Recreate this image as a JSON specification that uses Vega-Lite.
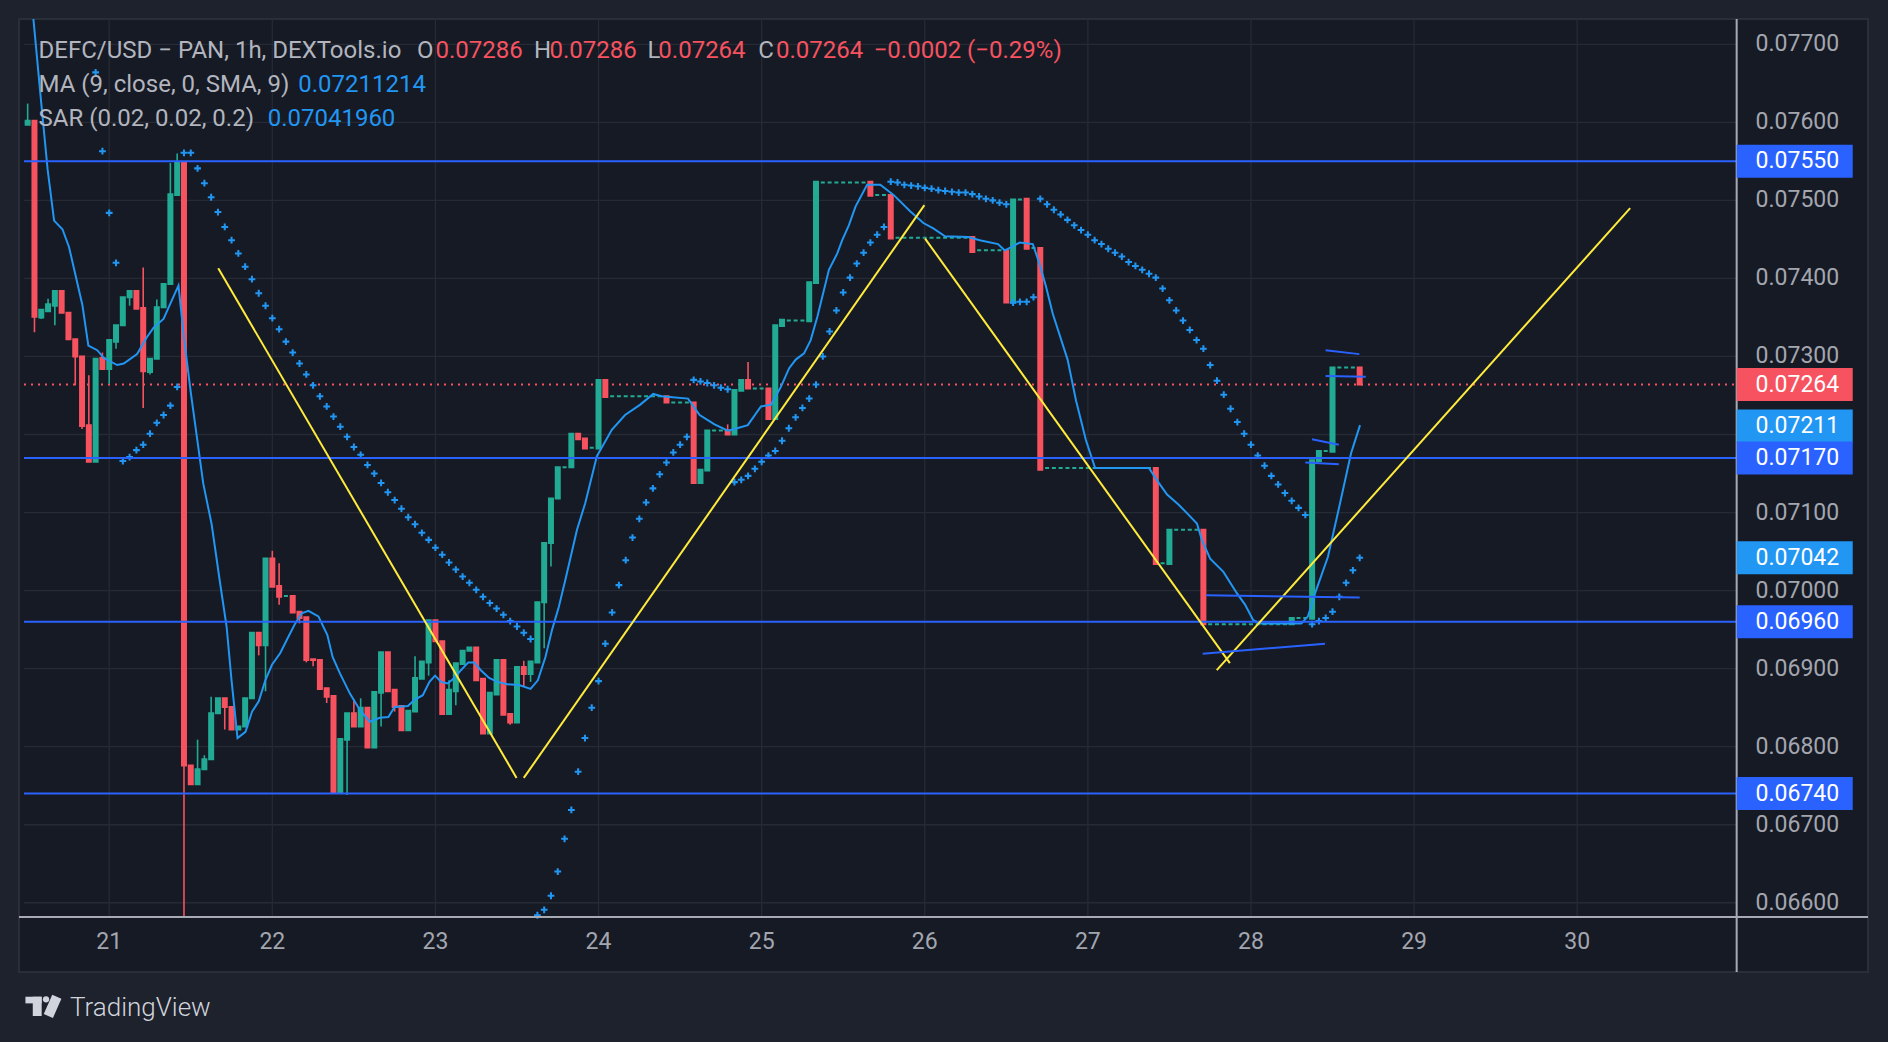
{
"$schema": "https://vega.github.io/schema/vega-lite/v6.json",
"width": 1849, "height": 953,
"autosize": {"type": "none"},
"padding": {"left": 19, "top": 19, "right": 20, "bottom": 70},
"background": "#1e222d",
"config": {"view": {"fill": "#161a25", "stroke": "#2a2e39", "strokeWidth": 2}, "text": {"font": "Roboto"}},
"datasets": {
"candles": [
{"h":-12,"o":0.07597,"c":0.07602,"hi":0.07624,"lo":0.07597},
{"h":-11,"o":0.07602,"c":0.07351,"hi":0.07602,"lo":0.07331},
{"h":-10,"o":0.07350,"c":0.07360,"hi":0.07360,"lo":0.07348},
{"h":-9,"o":0.07358,"c":0.07367,"hi":0.07374,"lo":0.07358},
{"h":-8,"o":0.07365,"c":0.07384,"hi":0.07384,"lo":0.07340},
{"h":-7,"o":0.07384,"c":0.07356},
{"h":-6,"o":0.07356,"c":0.07322},
{"h":-5,"o":0.07322,"c":0.07300,"hi":0.07322,"lo":0.07263},
{"h":-4,"o":0.07300,"c":0.07211,"hi":0.07300,"lo":0.07207},
{"h":-3,"o":0.07212,"c":0.07165,"hi":0.07276,"lo":0.07165},
{"h":-2,"o":0.07165,"c":0.07297},
{"h":-1,"o":0.07298,"c":0.07284,"hi":0.07305,"lo":0.07284},
{"h":0,"o":0.07284,"c":0.07321,"hi":0.07321,"lo":0.07265},
{"h":1,"o":0.07319,"c":0.07340,"hi":0.07340,"lo":0.07310},
{"h":2,"o":0.07340,"c":0.07376},
{"h":3,"o":0.07376,"c":0.07384,"hi":0.07384,"lo":0.07365},
{"h":4,"o":0.07384,"c":0.07361},
{"h":5,"o":0.07362,"c":0.07281,"hi":0.07414,"lo":0.07234},
{"h":6,"o":0.07280,"c":0.07297,"hi":0.07297,"lo":0.07277},
{"h":7,"o":0.07297,"c":0.07363,"hi":0.07373,"lo":0.07297},
{"h":8,"o":0.07363,"c":0.07393},
{"h":9,"o":0.07393,"c":0.07508,"hi":0.07548,"lo":0.07393},
{"h":10,"o":0.07507,"c":0.07548,"hi":0.07560,"lo":0.07507},
{"h":11,"o":0.07548,"c":0.06776,"hi":0.07548,"lo":0.06582},
{"h":12,"o":0.06776,"c":0.06752},
{"h":13,"o":0.06752,"c":0.06771,"hi":0.06809,"lo":0.06752},
{"h":14,"o":0.06771,"c":0.06784,"hi":0.06789,"lo":0.06771},
{"h":15,"o":0.06784,"c":0.06843,"hi":0.06864,"lo":0.06784},
{"h":16,"o":0.06843,"c":0.06862},
{"h":17,"o":0.06862,"c":0.06851,"hi":0.06862,"lo":0.06822},
{"h":18,"o":0.06851,"c":0.06822},
{"h":19,"o":0.06822,"c":0.06826},
{"h":20,"o":0.06826,"c":0.06862},
{"h":21,"o":0.06862,"c":0.06946},
{"h":22,"o":0.06946,"c":0.06930,"hi":0.06946,"lo":0.06917},
{"h":23,"o":0.06930,"c":0.07041,"hi":0.07041,"lo":0.06871},
{"h":24,"o":0.07041,"c":0.07005,"hi":0.07051,"lo":0.07005},
{"h":25,"o":0.07006,"c":0.06992,"hi":0.07035,"lo":0.06982},
{"h":26,"o":0.06993,"c":0.06993},
{"h":27,"o":0.06993,"c":0.06972},
{"h":28,"o":0.06973,"c":0.06965,"hi":0.06973,"lo":0.06958},
{"h":29,"o":0.06966,"c":0.06911,"hi":0.06966,"lo":0.06908},
{"h":30,"o":0.06912,"c":0.06911,"hi":0.06912,"lo":0.06903},
{"h":31,"o":0.06911,"c":0.06874},
{"h":32,"o":0.06875,"c":0.06864,"hi":0.06875,"lo":0.06856},
{"h":33,"o":0.06865,"c":0.06742},
{"h":34,"o":0.06742,"c":0.06810},
{"h":35,"o":0.06809,"c":0.06843,"hi":0.06843,"lo":0.06738},
{"h":36,"o":0.06843,"c":0.06826,"hi":0.06861,"lo":0.06826},
{"h":37,"o":0.06826,"c":0.06850,"hi":0.06862,"lo":0.06826},
{"h":38,"o":0.06850,"c":0.06799},
{"h":39,"o":0.06799,"c":0.06870},
{"h":40,"o":0.06869,"c":0.06921,"hi":0.06921,"lo":0.06826},
{"h":41,"o":0.06921,"c":0.06871},
{"h":42,"o":0.06873,"c":0.06851,"hi":0.06873,"lo":0.06845},
{"h":43,"o":0.06852,"c":0.06821},
{"h":44,"o":0.06821,"c":0.06846},
{"h":45,"o":0.06845,"c":0.06888,"hi":0.06916,"lo":0.06845},
{"h":46,"o":0.06887,"c":0.06909},
{"h":47,"o":0.06908,"c":0.06962,"hi":0.06962,"lo":0.06891},
{"h":48,"o":0.06962,"c":0.06935},
{"h":49,"o":0.06935,"c":0.06842},
{"h":50,"o":0.06842,"c":0.06873,"hi":0.06885,"lo":0.06842},
{"h":51,"o":0.06871,"c":0.06907,"hi":0.06907,"lo":0.06853},
{"h":52,"o":0.06906,"c":0.06923},
{"h":53,"o":0.06923,"c":0.06927},
{"h":54,"o":0.06927,"c":0.06885},
{"h":55,"o":0.06887,"c":0.06817},
{"h":56,"o":0.06817,"c":0.06869},
{"h":57,"o":0.06867,"c":0.06911},
{"h":58,"o":0.06911,"c":0.06841},
{"h":59,"o":0.06842,"c":0.06831,"hi":0.06842,"lo":0.06828},
{"h":60,"o":0.06831,"c":0.06902},
{"h":61,"o":0.06902,"c":0.06893,"hi":0.06910,"lo":0.06877},
{"h":62,"o":0.06893,"c":0.06909,"hi":0.06909,"lo":0.06883},
{"h":63,"o":0.06908,"c":0.06985},
{"h":64,"o":0.06985,"c":0.07061,"hi":0.07061,"lo":0.06926},
{"h":65,"o":0.07061,"c":0.07118,"hi":0.07118,"lo":0.07031},
{"h":66,"o":0.07118,"c":0.07158},
{"h":67,"o":0.07158,"c":0.07158},
{"h":68,"o":0.07158,"c":0.07201},
{"h":69,"o":0.07201,"c":0.07194},
{"h":70,"o":0.07195,"c":0.07182},
{"h":71,"o":0.07183,"c":0.07183},
{"h":72,"o":0.07182,"c":0.07270},
{"h":73,"o":0.07270,"c":0.07248},
{"h":74,"o":0.07249,"c":0.07249},
{"h":75,"o":0.07249,"c":0.07249},
{"h":76,"o":0.07249,"c":0.07249},
{"h":77,"o":0.07249,"c":0.07249},
{"h":78,"o":0.07249,"c":0.07249},
{"h":79,"o":0.07249,"c":0.07249},
{"h":80,"o":0.07249,"c":0.07249},
{"h":81,"o":0.07249,"c":0.07249},
{"h":82,"o":0.07249,"c":0.07241},
{"h":83,"o":0.07241,"c":0.07241},
{"h":84,"o":0.07241,"c":0.07241},
{"h":85,"o":0.07241,"c":0.07241},
{"h":86,"o":0.07241,"c":0.07138},
{"h":87,"o":0.07138,"c":0.07155},
{"h":88,"o":0.07154,"c":0.07205},
{"h":89,"o":0.07205,"c":0.07205},
{"h":90,"o":0.07205,"c":0.07205},
{"h":91,"o":0.07205,"c":0.07200,"hi":0.07213,"lo":0.07200},
{"h":92,"o":0.07200,"c":0.07257},
{"h":93,"o":0.07256,"c":0.07270},
{"h":94,"o":0.07270,"c":0.07259,"hi":0.07293,"lo":0.07259},
{"h":95,"o":0.07259,"c":0.07259},
{"h":96,"o":0.07259,"c":0.07259},
{"h":97,"o":0.07259,"c":0.07220},
{"h":98,"o":0.07220,"c":0.07340},
{"h":99,"o":0.07339,"c":0.07347},
{"h":100,"o":0.07346,"c":0.07346},
{"h":101,"o":0.07346,"c":0.07346},
{"h":102,"o":0.07346,"c":0.07346},
{"h":103,"o":0.07345,"c":0.07395},
{"h":104,"o":0.07394,"c":0.07524},
{"h":105,"o":0.07523,"c":0.07523},
{"h":106,"o":0.07523,"c":0.07523},
{"h":107,"o":0.07523,"c":0.07523},
{"h":108,"o":0.07523,"c":0.07523},
{"h":109,"o":0.07523,"c":0.07523},
{"h":110,"o":0.07523,"c":0.07523},
{"h":111,"o":0.07523,"c":0.07523},
{"h":112,"o":0.07524,"c":0.07506},
{"h":113,"o":0.07507,"c":0.07507},
{"h":114,"o":0.07507,"c":0.07507},
{"h":115,"o":0.07507,"c":0.07451},
{"h":116,"o":0.07452,"c":0.07452},
{"h":117,"o":0.07452,"c":0.07452},
{"h":118,"o":0.07452,"c":0.07452},
{"h":119,"o":0.07452,"c":0.07452},
{"h":120,"o":0.07452,"c":0.07452},
{"h":121,"o":0.07452,"c":0.07452},
{"h":122,"o":0.07452,"c":0.07452},
{"h":123,"o":0.07452,"c":0.07452},
{"h":124,"o":0.07452,"c":0.07452},
{"h":125,"o":0.07452,"c":0.07452},
{"h":126,"o":0.07452,"c":0.07452},
{"h":127,"o":0.07453,"c":0.07434},
{"h":128,"o":0.07436,"c":0.07436},
{"h":129,"o":0.07436,"c":0.07436},
{"h":130,"o":0.07436,"c":0.07436},
{"h":131,"o":0.07436,"c":0.07436},
{"h":132,"o":0.07436,"c":0.07369},
{"h":133,"o":0.07369,"c":0.07501},
{"h":134,"o":0.07501,"c":0.07501},
{"h":135,"o":0.07502,"c":0.07438},
{"h":136,"o":0.07439,"c":0.07439},
{"h":137,"o":0.07439,"c":0.07155},
{"h":138,"o":0.07157,"c":0.07157},
{"h":139,"o":0.07157,"c":0.07157},
{"h":140,"o":0.07157,"c":0.07157},
{"h":141,"o":0.07157,"c":0.07157},
{"h":142,"o":0.07157,"c":0.07157},
{"h":143,"o":0.07157,"c":0.07157},
{"h":144,"o":0.07157,"c":0.07157},
{"h":145,"o":0.07157,"c":0.07157},
{"h":146,"o":0.07157,"c":0.07157},
{"h":147,"o":0.07157,"c":0.07157},
{"h":148,"o":0.07157,"c":0.07157},
{"h":149,"o":0.07157,"c":0.07157},
{"h":150,"o":0.07157,"c":0.07157},
{"h":151,"o":0.07157,"c":0.07157},
{"h":152,"o":0.07157,"c":0.07157},
{"h":153,"o":0.07157,"c":0.07157},
{"h":154,"o":0.07157,"c":0.07034},
{"h":155,"o":0.07035,"c":0.07035},
{"h":156,"o":0.07034,"c":0.07078},
{"h":157,"o":0.07078,"c":0.07078},
{"h":158,"o":0.07078,"c":0.07078},
{"h":159,"o":0.07078,"c":0.07078},
{"h":160,"o":0.07078,"c":0.07078},
{"h":161,"o":0.07078,"c":0.06957},
{"h":162,"o":0.06957,"c":0.06957},
{"h":163,"o":0.06957,"c":0.06957},
{"h":164,"o":0.06957,"c":0.06957},
{"h":165,"o":0.06957,"c":0.06957},
{"h":166,"o":0.06957,"c":0.06957},
{"h":167,"o":0.06957,"c":0.06957},
{"h":168,"o":0.06957,"c":0.06957},
{"h":169,"o":0.06957,"c":0.06957},
{"h":170,"o":0.06957,"c":0.06957},
{"h":171,"o":0.06957,"c":0.06957},
{"h":172,"o":0.06957,"c":0.06957},
{"h":173,"o":0.06957,"c":0.06957},
{"h":174,"o":0.06957,"c":0.06965},
{"h":175,"o":0.06965,"c":0.06965},
{"h":176,"o":0.06965,"c":0.06965},
{"h":177,"o":0.06964,"c":0.07167},
{"h":178,"o":0.07166,"c":0.07179},
{"h":179,"o":0.07179,"c":0.07179},
{"h":180,"o":0.07178,"c":0.07286},
{"h":181,"o":0.07286,"c":0.07286},
{"h":182,"o":0.07286,"c":0.07286},
{"h":183,"o":0.07286,"c":0.07286},
{"h":184,"o":0.07286,"c":0.07264}
],
"sar": [
{"h":-2,"p":0.07664},{"h":-1,"p":0.07563},{"h":0,"p":0.07484},{"h":1,"p":0.07420},
{"h":2,"p":0.07166},{"h":3,"p":0.07171},{"h":4,"p":0.07180},{"h":5,"p":0.07187},{"h":6,"p":0.07201},{"h":7,"p":0.07215},{"h":8,"p":0.07225},{"h":9,"p":0.07237},{"h":10,"p":0.07261},
{"h":11,"p":0.07561},{"h":12,"p":0.07561},{"h":13,"p":0.07541},{"h":14,"p":0.07522},{"h":15,"p":0.07504},{"h":16,"p":0.07485},{"h":17,"p":0.07466},{"h":18,"p":0.07449},{"h":19,"p":0.07432},{"h":20,"p":0.07415},{"h":21,"p":0.07399},{"h":22,"p":0.07381},{"h":23,"p":0.07365},{"h":24,"p":0.07349},{"h":25,"p":0.07335},{"h":26,"p":0.07319},{"h":27,"p":0.07305},{"h":28,"p":0.07291},{"h":29,"p":0.07277},{"h":30,"p":0.07263},{"h":31,"p":0.07249},{"h":32,"p":0.07236},{"h":33,"p":0.07223},{"h":34,"p":0.07210},{"h":35,"p":0.07197},{"h":36,"p":0.07184},{"h":37,"p":0.07174},{"h":38,"p":0.07161},{"h":39,"p":0.07150},{"h":40,"p":0.07138},{"h":41,"p":0.07126},{"h":42,"p":0.07116},{"h":43,"p":0.07105},{"h":44,"p":0.07094},{"h":45,"p":0.07085},{"h":46,"p":0.07074},{"h":47,"p":0.07065},{"h":48,"p":0.07055},{"h":49,"p":0.07046},{"h":50,"p":0.07036},{"h":51,"p":0.07027},{"h":52,"p":0.07018},{"h":53,"p":0.07010},{"h":54,"p":0.07001},{"h":55,"p":0.06992},{"h":56,"p":0.06984},{"h":57,"p":0.06977},{"h":58,"p":0.06969},{"h":59,"p":0.06961},{"h":60,"p":0.06954},{"h":61,"p":0.06946},{"h":62,"p":0.06938},
{"h":63,"p":0.06584},{"h":64,"p":0.06591},{"h":65,"p":0.06609},{"h":66,"p":0.06640},{"h":67,"p":0.06682},{"h":68,"p":0.06719},{"h":69,"p":0.06768},{"h":70,"p":0.06811},{"h":71,"p":0.06850},{"h":72,"p":0.06884},{"h":73,"p":0.06932},{"h":74,"p":0.06972},{"h":75,"p":0.07007},{"h":76,"p":0.07039},{"h":77,"p":0.07068},{"h":78,"p":0.07092},{"h":79,"p":0.07113},{"h":80,"p":0.07131},{"h":81,"p":0.07149},{"h":82,"p":0.07164},{"h":83,"p":0.07177},{"h":84,"p":0.07187},{"h":85,"p":0.07197},
{"h":86,"p":0.07270},{"h":87,"p":0.07268},{"h":88,"p":0.07266},{"h":89,"p":0.07263},{"h":90,"p":0.07260},{"h":91,"p":0.07258},
{"h":92,"p":0.07139},{"h":93,"p":0.07142},{"h":94,"p":0.07147},{"h":95,"p":0.07156},{"h":96,"p":0.07165},{"h":97,"p":0.07173},{"h":98,"p":0.07179},{"h":99,"p":0.07192},{"h":100,"p":0.07208},{"h":101,"p":0.07222},{"h":102,"p":0.07234},{"h":103,"p":0.07246},{"h":104,"p":0.07264},{"h":105,"p":0.07300},{"h":106,"p":0.07332},{"h":107,"p":0.07359},{"h":108,"p":0.07382},{"h":109,"p":0.07401},{"h":110,"p":0.07419},{"h":111,"p":0.07433},{"h":112,"p":0.07446},{"h":113,"p":0.07456},{"h":114,"p":0.07466},
{"h":115,"p":0.07524},{"h":116,"p":0.07523},{"h":117,"p":0.07520},{"h":118,"p":0.07519},{"h":119,"p":0.07518},{"h":120,"p":0.07516},{"h":121,"p":0.07515},{"h":122,"p":0.07513},{"h":123,"p":0.07512},{"h":124,"p":0.07511},{"h":125,"p":0.07510},{"h":126,"p":0.07510},{"h":127,"p":0.07508},{"h":128,"p":0.07505},{"h":129,"p":0.07502},{"h":130,"p":0.07500},{"h":131,"p":0.07497},{"h":132,"p":0.07495},
{"h":133,"p":0.07369},{"h":134,"p":0.07370},{"h":135,"p":0.07370},{"h":136,"p":0.07376},
{"h":137,"p":0.07502},{"h":138,"p":0.07495},{"h":139,"p":0.07488},{"h":140,"p":0.07482},{"h":141,"p":0.07475},{"h":142,"p":0.07468},{"h":143,"p":0.07462},{"h":144,"p":0.07456},{"h":145,"p":0.07449},{"h":146,"p":0.07444},{"h":147,"p":0.07438},{"h":148,"p":0.07433},{"h":149,"p":0.07428},{"h":150,"p":0.07421},{"h":151,"p":0.07416},{"h":152,"p":0.07411},{"h":153,"p":0.07406},{"h":154,"p":0.07401},{"h":155,"p":0.07387},{"h":156,"p":0.07372},{"h":157,"p":0.07359},{"h":158,"p":0.07346},{"h":159,"p":0.07334},{"h":160,"p":0.07321},{"h":161,"p":0.07310},{"h":162,"p":0.07289},{"h":163,"p":0.07269},{"h":164,"p":0.07251},{"h":165,"p":0.07233},{"h":166,"p":0.07216},{"h":167,"p":0.07201},{"h":168,"p":0.07187},{"h":169,"p":0.07173},{"h":170,"p":0.07160},{"h":171,"p":0.07147},{"h":172,"p":0.07136},{"h":173,"p":0.07125},{"h":174,"p":0.07115},{"h":175,"p":0.07106},{"h":176,"p":0.07097},
{"h":177,"p":0.06957},{"h":178,"p":0.06961},{"h":179,"p":0.06965},{"h":180,"p":0.06973},{"h":181,"p":0.06992},{"h":182,"p":0.07010},{"h":183,"p":0.07026},{"h":184,"p":0.07042}
],
"ma": [
{"h":-11.6,"p":0.0779},{"h":-11.14,"p":0.07731},{"h":-10.05,"p":0.07629},{"h":-9.07,"p":0.07540},{"h":-8.11,"p":0.07474},{"h":-6.88,"p":0.07463},{"h":-5.91,"p":0.07440},{"h":-3.95,"p":0.07366},{"h":-3.07,"p":0.07314},{"h":-1.76,"p":0.07308},{"h":-0.79,"p":0.07298},{"h":1.17,"p":0.07289},{"h":2.14,"p":0.07291},{"h":4.10,"p":0.07303},{"h":5.56,"p":0.07325},{"h":6.53,"p":0.07337},{"h":7.99,"p":0.07348},{"h":10.19,"p":0.07391},{"h":11.0,"p":0.07324},{"h":12.0,"p":0.07254},{"h":13.84,"p":0.07137},{"h":15.07,"p":0.07085},{"h":16.29,"p":0.07011},{"h":17.27,"p":0.06954},{"h":18.0,"p":0.06885},{"h":18.88,"p":0.06811},{"h":20.05,"p":0.06819},{"h":21.02,"p":0.06845},{"h":22.0,"p":0.06858},{"h":22.97,"p":0.06885},{"h":23.95,"p":0.06905},{"h":25.17,"p":0.06920},{"h":26.14,"p":0.06937},{"h":27.37,"p":0.06958},{"h":28.33,"p":0.06971},{"h":29.31,"p":0.06974},{"h":30.78,"p":0.06967},{"h":32.1,"p":0.06943},{"h":32.87,"p":0.06915},{"h":33.95,"p":0.06894},{"h":35.42,"p":0.06868},{"h":36.88,"p":0.06847},{"h":38.34,"p":0.06832},{"h":39.8,"p":0.06837},{"h":41.07,"p":0.06838},{"h":42.0,"p":0.06851},{"h":43.95,"p":0.06852},{"h":44.93,"p":0.06860},{"h":46.14,"p":0.06866},{"h":47.12,"p":0.06883},{"h":47.95,"p":0.06891},{"h":48.83,"p":0.06883},{"h":49.8,"p":0.06881},{"h":50.78,"p":0.06888},{"h":51.75,"p":0.06898},{"h":52.83,"p":0.06908},{"h":53.71,"p":0.06908},{"h":54.68,"p":0.06898},{"h":55.9,"p":0.06888},{"h":57.12,"p":0.06883},{"h":58.58,"p":0.06880},{"h":60.3,"p":0.06879},{"h":62.0,"p":0.06874},{"h":63.07,"p":0.06885},{"h":64.19,"p":0.06915},{"h":65.17,"p":0.06950},{"h":66.15,"p":0.06979},{"h":67.12,"p":0.07014},{"h":68.83,"p":0.07078},{"h":70.04,"p":0.07112},{"h":71.75,"p":0.07172},{"h":73.95,"p":0.07206},{"h":75.9,"p":0.07225},{"h":78.09,"p":0.07238},{"h":80.05,"p":0.07252},{"h":81.27,"p":0.07249},{"h":85.17,"p":0.07246},{"h":86.88,"p":0.07225},{"h":89.07,"p":0.07213},{"h":91.03,"p":0.07205},{"h":92.0,"p":0.07207},{"h":93.96,"p":0.07212},{"h":95.9,"p":0.07236},{"h":97.37,"p":0.07238},{"h":98.83,"p":0.07261},{"h":100.05,"p":0.07285},{"h":101.02,"p":0.07296},{"h":102.24,"p":0.07304},{"h":103.22,"p":0.07321},{"h":104.2,"p":0.07351},{"h":105.9,"p":0.07411},{"h":107.13,"p":0.07432},{"h":107.86,"p":0.07449},{"h":108.83,"p":0.07468},{"h":109.81,"p":0.07492},{"h":111.52,"p":0.07520},{"h":113.46,"p":0.07520},{"h":115.41,"p":0.07507},{"h":117.85,"p":0.07486},{"h":119.8,"p":0.07471},{"h":121.26,"p":0.07464},{"h":122.98,"p":0.07454},{"h":126.39,"p":0.07453},{"h":128.1,"p":0.07449},{"h":130.78,"p":0.07444},{"h":131.76,"p":0.07436},{"h":132.74,"p":0.07440},{"h":133.95,"p":0.07446},{"h":135.9,"p":0.07444},{"h":136.88,"p":0.07419},{"h":137.86,"p":0.07389},{"h":138.83,"p":0.07355},{"h":141.02,"p":0.07296},{"h":142.25,"p":0.07244},{"h":143.71,"p":0.07193},{"h":145.07,"p":0.07157},{"h":152.98,"p":0.07157},{"h":154.44,"p":0.07138},{"h":155.66,"p":0.07123},{"h":157.37,"p":0.07110},{"h":158.83,"p":0.07097},{"h":160.05,"p":0.07086},{"h":160.78,"p":0.07065},{"h":162.0,"p":0.07041},{"h":163.95,"p":0.07024},{"h":165.9,"p":0.06997},{"h":167.13,"p":0.06982},{"h":168.34,"p":0.06962},{"h":169.32,"p":0.06958},{"h":175.41,"p":0.06958},{"h":176.39,"p":0.06967},{"h":177.61,"p":0.07001},{"h":179.32,"p":0.07043},{"h":180.78,"p":0.07099},{"h":182.73,"p":0.07176},{"h":184.05,"p":0.07212}
],
"draw": [
{"seg":"y1","k":"y","h":16.04,"p":0.07413},{"seg":"y1","k":"y","h":59.94,"p":0.06760},
{"seg":"y2","k":"y","h":61.0,"p":0.06760},{"seg":"y2","k":"y","h":119.95,"p":0.07494},
{"seg":"y3","k":"y","h":120.05,"p":0.07451},{"seg":"y3","k":"y","h":164.9,"p":0.06907},
{"seg":"y4","k":"y","h":162.97,"p":0.06898},{"seg":"y4","k":"y","h":223.8,"p":0.07490},
{"seg":"a","k":"b","h":178.98,"p":0.07308},{"seg":"a","k":"b","h":183.95,"p":0.07303},
{"seg":"b","k":"b","h":178.98,"p":0.07275},{"seg":"b","k":"b","h":184.9,"p":0.07274},
{"seg":"c","k":"b","h":176.98,"p":0.07194},{"seg":"c","k":"b","h":180.93,"p":0.07187},
{"seg":"d","k":"b","h":176.0,"p":0.07164},{"seg":"d","k":"b","h":180.93,"p":0.07162},
{"seg":"e","k":"b","h":161.4,"p":0.06994},{"seg":"e","k":"b","h":184.0,"p":0.06991},
{"seg":"f","k":"b","h":160.9,"p":0.06919},{"seg":"f","k":"b","h":178.9,"p":0.06932}
],
"hdr": [
{"t":"DEFC/USD − PAN, 1h, DEXTools.io","k":"lab","h":-10.4,"p":0.076824},
{"t":"O","k":"lab","h":45.3,"p":0.076824},
{"t":"0.07286","k":"red","h":48.0,"p":0.076824},
{"t":"H","k":"lab","h":62.5,"p":0.076824},
{"t":"0.07286","k":"red","h":64.79,"p":0.076824},
{"t":"L","k":"lab","h":79.2,"p":0.076824},
{"t":"0.07264","k":"red","h":80.8,"p":0.076824},
{"t":"C","k":"lab","h":95.5,"p":0.076824},
{"t":"0.07264","k":"red","h":98.1,"p":0.076824},
{"t":"−0.0002 (−0.29%)","k":"red","h":112.48,"p":0.076824},
{"t":"MA (9, close, 0, SMA, 9)","k":"lab","h":-10.4,"p":0.076393},
{"t":"0.07211214","k":"blue","h":27.81,"p":0.076393},
{"t":"SAR (0.02, 0.02, 0.2)","k":"lab","h":-10.4,"p":0.075953},
{"t":"0.07041960","k":"blue","h":23.31,"p":0.075953}
],
"boxes": [
{"v":0.0755,"t":"0.07550","k":"lvl"},
{"v":0.07264,"t":"0.07264","k":"red"},
{"v":0.07211,"t":"0.07211","k":"blue"},
{"v":0.0717,"t":"0.07170","k":"lvl"},
{"v":0.07042,"t":"0.07042","k":"blue"},
{"v":0.0696,"t":"0.06960","k":"lvl"},
{"v":0.0674,"t":"0.06740","k":"lvl"}
],
"ticks": [{"p":0.066},{"p":0.067},{"p":0.068},{"p":0.069},{"p":0.070},{"p":0.071},{"p":0.073},{"p":0.074},{"p":0.075},{"p":0.076},{"p":0.077}],
"days": [{"h":0,"d":"21"},{"h":24,"d":"22"},{"h":48,"d":"23"},{"h":72,"d":"24"},{"h":96,"d":"25"},{"h":120,"d":"26"},{"h":144,"d":"27"},{"h":168,"d":"28"},{"h":192,"d":"29"},{"h":216,"d":"30"}]
},
"layer": [
{"data": {"values": [{"p":0.066},{"p":0.067},{"p":0.068},{"p":0.069},{"p":0.070},{"p":0.071},{"p":0.072},{"p":0.073},{"p":0.074},{"p":0.075},{"p":0.076},{"p":0.077}]},
 "mark": {"type": "rule", "color": "#262a35", "strokeWidth": 1.3},
 "encoding": {
  "x": {"datum": -12.54, "type": "quantitative", "scale": {"domain": [-12.54, 258.06], "nice": false, "zero": false}, "axis": null},
  "x2": {"datum": 239.47},
  "y": {"field": "p", "type": "quantitative", "scale": {"domain": [0.065113, 0.077324], "nice": false, "zero": false}, "axis": null}
 }},
{"data": {"name": "days"},
 "mark": {"type": "rule", "color": "#262a35", "strokeWidth": 1.3},
 "encoding": {
  "x": {"field": "h", "type": "quantitative", "axis": null},
  "y": {"datum": 0.065817, "type": "quantitative", "axis": null},
  "y2": {"datum": 0.077324}
 }},
{"data": {"values": [{"p":0.07264}]},
 "mark": {"type": "rule", "color": "#f7525f", "strokeWidth": 2, "strokeDash": [2, 5]},
 "encoding": {"x": {"datum": -12.54, "type": "quantitative", "axis": null}, "x2": {"datum": 239.47}, "y": {"field": "p", "type": "quantitative", "axis": null}}},
{"data": {"name": "candles"},
 "mark": {"type": "rule", "strokeWidth": 1.6},
 "encoding": {
  "x": {"field": "h", "type": "quantitative", "axis": null},
  "y": {"field": "lo", "type": "quantitative", "axis": null},
  "y2": {"field": "hi"},
  "color": {"condition": {"test": "datum.c >= datum.o", "value": "#22ab94"}, "value": "#f7525f"}
 }},
{"data": {"name": "candles"},
 "mark": {"type": "bar", "width": 4, "strokeWidth": 2},
 "encoding": {
  "x": {"field": "h", "type": "quantitative", "axis": null},
  "y": {"field": "o", "type": "quantitative", "axis": null},
  "y2": {"field": "c"},
  "fill": {"condition": {"test": "datum.c >= datum.o", "value": "#22ab94"}, "value": "#f7525f"},
  "stroke": {"condition": {"test": "datum.c >= datum.o", "value": "#22ab94"}, "value": "#f7525f"}
 }},
{"data": {"name": "ma"},
 "mark": {"type": "line", "color": "#2196f3", "strokeWidth": 2, "clip": true},
 "encoding": {"x": {"field": "h", "type": "quantitative", "axis": null}, "y": {"field": "p", "type": "quantitative", "axis": null}}},
{"data": {"name": "sar"},
 "mark": {"type": "point", "shape": "M-1,-0.3H1V0.3H-1Z M-0.3,-1H0.3V1H-0.3Z", "filled": true, "size": 46, "color": "#2196f3", "opacity": 1, "strokeWidth": 0},
 "encoding": {"x": {"field": "h", "type": "quantitative", "axis": null}, "y": {"field": "p", "type": "quantitative", "axis": null}}},
{"data": {"values": [{"p":0.0755},{"p":0.0717},{"p":0.0696},{"p":0.0674}]},
 "mark": {"type": "rule", "color": "#2962ff", "strokeWidth": 2},
 "encoding": {"x": {"datum": -12.54, "type": "quantitative", "axis": null}, "x2": {"datum": 239.47}, "y": {"field": "p", "type": "quantitative", "axis": null}}},
{"data": {"name": "draw"},
 "mark": {"type": "line", "strokeWidth": 2},
 "encoding": {
  "x": {"field": "h", "type": "quantitative", "axis": null},
  "y": {"field": "p", "type": "quantitative", "axis": null},
  "detail": {"field": "seg"},
  "stroke": {"field": "k", "type": "nominal", "scale": {"domain": ["y", "b"], "range": ["#ffeb3b", "#2962ff"]}, "legend": null}
 }},
{"data": {"name": "hdr"},
 "mark": {"type": "text", "align": "left", "baseline": "alphabetic", "fontSize": 24, "font": "Roboto"},
 "encoding": {
  "x": {"field": "h", "type": "quantitative", "axis": null},
  "y": {"field": "p", "type": "quantitative", "axis": null},
  "text": {"field": "t"},
  "color": {"field": "k", "type": "nominal", "scale": {"domain": ["lab", "red", "blue", "lvl"], "range": ["#b2b5be", "#f7525f", "#2196f3", "#2962ff"]}, "legend": null}
 }},
{"data": {"values": [{"a": 1}]},
 "mark": {"type": "rule", "color": "#a7aab3", "strokeWidth": 2},
 "encoding": {"x": {"datum": 239.47, "type": "quantitative", "axis": null}}},
{"data": {"values": [{"a": 1}]},
 "mark": {"type": "rule", "color": "#a7aab3", "strokeWidth": 2},
 "encoding": {"y": {"datum": 0.065817, "type": "quantitative", "axis": null}}},
{"data": {"name": "ticks"},
 "mark": {"type": "text", "align": "left", "baseline": "middle", "fontSize": 23, "font": "Roboto", "color": "#a3a6af"},
 "encoding": {
  "x": {"datum": 242.25, "type": "quantitative", "axis": null},
  "y": {"field": "p", "type": "quantitative", "axis": null},
  "text": {"field": "p", "type": "quantitative", "format": ".5f"}
 }},
{"data": {"name": "days"},
 "mark": {"type": "text", "align": "center", "baseline": "middle", "fontSize": 23, "font": "Roboto", "color": "#a3a6af"},
 "encoding": {
  "x": {"field": "h", "type": "quantitative", "axis": null},
  "y": {"datum": 0.065497, "type": "quantitative", "axis": null},
  "text": {"field": "d"}
 }},
{"data": {"name": "boxes"},
 "mark": {"type": "rule", "strokeWidth": 33},
 "encoding": {
  "x": {"datum": 239.47, "type": "quantitative", "axis": null},
  "x2": {"datum": 256.55},
  "y": {"field": "v", "type": "quantitative", "axis": null},
  "color": {"field": "k", "type": "nominal", "scale": {"domain": ["lab", "red", "blue", "lvl"], "range": ["#b2b5be", "#f7525f", "#2196f3", "#2962ff"]}, "legend": null}
 }},
{"data": {"name": "boxes"},
 "mark": {"type": "text", "align": "left", "baseline": "middle", "fontSize": 23, "font": "Roboto", "color": "#ffffff"},
 "encoding": {
  "x": {"datum": 242.25, "type": "quantitative", "axis": null},
  "y": {"field": "v", "type": "quantitative", "axis": null},
  "text": {"field": "t"}
 }},
{"data": {"values": [{"t": "TradingView", "h": -5.77, "p": 0.064549}]},
 "mark": {"type": "text", "align": "left", "baseline": "alphabetic", "fontSize": 26, "fontWeight": 300, "font": "Roboto", "color": "#d1d4dc"},
 "encoding": {"x": {"field": "h", "type": "quantitative", "axis": null}, "y": {"field": "p", "type": "quantitative", "axis": null}, "text": {"field": "t"}}},
{"data": {"values": [{"a": 1}]},
 "mark": {"type": "rect", "color": "#d1d4dc"},
 "encoding": {"x": {"datum": -12.33, "type": "quantitative", "axis": null}, "x2": {"datum": -9.94}, "y": {"datum": 0.064711, "type": "quantitative", "axis": null}, "y2": {"datum": 0.064796}}},
{"data": {"values": [{"a": 1}]},
 "mark": {"type": "rect", "color": "#d1d4dc"},
 "encoding": {"x": {"datum": -11.25, "type": "quantitative", "axis": null}, "x2": {"datum": -9.94}, "y": {"datum": 0.064549, "type": "quantitative", "axis": null}, "y2": {"datum": 0.064796}}},
{"data": {"values": [{"a": 1}]},
 "mark": {"type": "point", "shape": "circle", "filled": true, "size": 40, "opacity": 1, "color": "#d1d4dc"},
 "encoding": {"x": {"datum": -9.3, "type": "quantitative", "axis": null}, "y": {"datum": 0.064763, "type": "quantitative", "axis": null}}},
{"data": {"values": [{"a": 1}]},
 "mark": {"type": "rule", "color": "#d1d4dc", "strokeWidth": 10},
 "encoding": {"x": {"datum": -7.71, "type": "quantitative", "axis": null}, "x2": {"datum": -8.96}, "y": {"datum": 0.064796, "type": "quantitative", "axis": null}, "y2": {"datum": 0.064549}}}
]
}
